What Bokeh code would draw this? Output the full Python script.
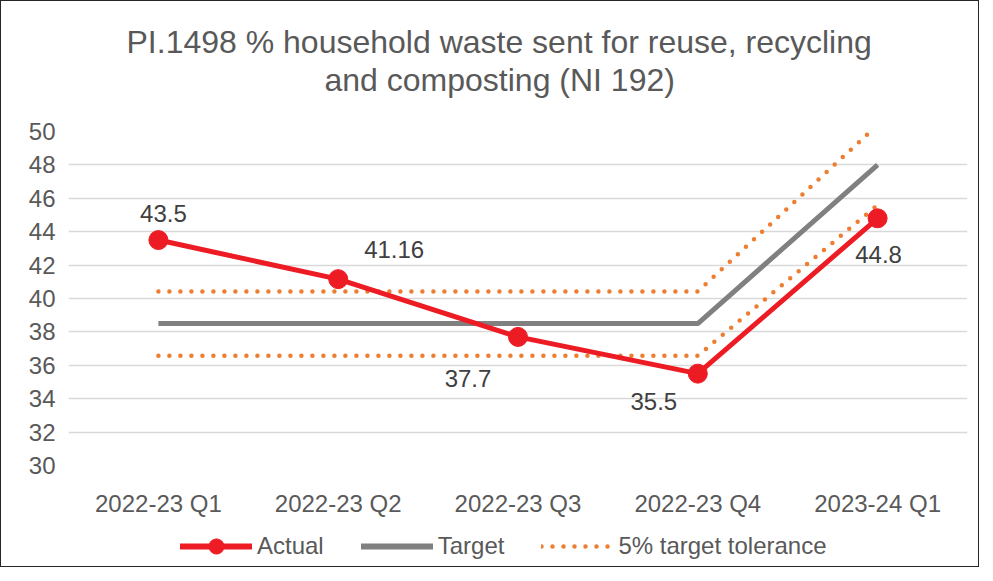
from bokeh.plotting import figure
from bokeh.layouts import column
from bokeh.models import (FactorRange, Range1d, FixedTicker, Legend, LegendItem,
                          ColumnDataSource, LabelSet, Title)
from bokeh.core.properties import value
from bokeh.embed import file_html
from bokeh.resources import INLINE

categories = ["2022-23 Q1", "2022-23 Q2", "2022-23 Q3", "2022-23 Q4", "2023-24 Q1"]
actual = [43.5, 41.16, 37.7, 35.5, 44.8]
target = [38.5, 38.5, 38.5, 38.5, 48.0]
tolerance_upper = [40.425, 40.425, 40.425, 40.425, 50.4]
tolerance_lower = [36.575, 36.575, 36.575, 36.575, 45.6]
y_ticks = [30, 32, 34, 36, 38, 40, 42, 44, 46, 48, 50]
title_lines = ["PI.1498 % household waste sent for reuse, recycling", "and composting (NI 192)"]
series_names = ["Actual", "Target", "5% target tolerance"]

# label placement (screen pixel offsets, styling only)
label_dx = [5, 56, -50, -44, 1]
label_dy = [27, 30, -42, -28, -36]

FONT = "Liberation Sans"
TXT = "#595959"
RED = "#ed1c24"
GREY = "#808080"
ORANGE = "#ed7d31"

p = figure(x_range=FactorRange(factors=categories, range_padding=0),
           y_range=Range1d(30, 50),
           width=977, height=524, output_backend="svg", toolbar_location=None,
           min_border_left=67, min_border_right=11, min_border_top=130, min_border_bottom=60)

# titles: p.title is the outermost; added titles stack from the frame outward
p.title.text = title_lines[0]
spacer = Title(text=" ", text_font_size="29px", standoff=0)
t2 = Title(text=title_lines[1])
for t in (p.title, t2):
    t.text_font = FONT
    t.text_font_size = "32px"
    t.text_font_style = "normal"
    t.text_color = TXT
    t.align = "left"
    t.standoff = 0
p.title.offset = 58
t2.offset = 256
p.add_layout(spacer, "above")
p.add_layout(t2, "above")

p.outline_line_color = None
p.background_fill_color = "white"
p.border_fill_color = "white"

p.xgrid.grid_line_color = None
p.ygrid.grid_line_color = "#d9d9d9"
p.ygrid.grid_line_width = 1.5
p.yaxis.ticker = FixedTicker(ticks=y_ticks)

for ax in (p.xaxis[0], p.yaxis[0]):
    ax.axis_line_color = None
    ax.major_tick_line_color = None
    ax.minor_tick_line_color = None
    ax.major_label_text_font = FONT
    ax.major_label_text_font_size = "24px"
    ax.major_label_text_color = TXT
p.yaxis.major_label_standoff = 7
p.xaxis.major_label_standoff = 18

src = ColumnDataSource(dict(x=categories, actual=actual, target=target,
                            up=tolerance_upper, lo=tolerance_lower,
                            lab=[str(v) for v in actual], dx=label_dx, dy=label_dy))

dot = dict(line_color=ORANGE, line_width=4.5, line_dash="0 11", line_cap="round")
p.line("x", "up", source=src, **dot)
p.line("x", "lo", source=src, **dot)
p.line("x", "target", source=src, line_color=GREY, line_width=5)
p.line("x", "actual", source=src, line_color=RED, line_width=5)
p.scatter("x", "actual", source=src, size=19, fill_color=RED, line_color=RED)

labels = LabelSet(x="x", y="actual", text="lab", source=src, x_offset="dx", y_offset="dy",
                  text_align="center", text_baseline="middle", text_font=value(FONT),
                  text_font_size=value("24px"), text_color=value("#404040"))
p.add_layout(labels)

# legend strip below the chart (hidden series renderers supply the legend glyphs)
lg = figure(x_range=FactorRange(factors=categories, range_padding=0),
            y_range=Range1d(30, 50),
            width=977, height=41, output_backend="svg", toolbar_location=None,
            x_axis_location=None, y_axis_location=None,
            min_border_left=0, min_border_right=0, min_border_top=0, min_border_bottom=0)
lg.outline_line_color = None
lg.grid.grid_line_color = None
lg.background_fill_color = "white"
lg.border_fill_color = "white"
la = lg.line("x", "actual", source=src, line_color=RED, line_width=6, line_cap="round",
             visible=False)
lm = lg.scatter("x", "actual", source=src, size=15, fill_color=RED, line_color=RED,
                visible=False)
lt = lg.line("x", "target", source=src, line_color=GREY, line_width=6, line_cap="round",
             visible=False)
lo = lg.line("x", "up", source=src, visible=False, **dot)

legend = Legend(items=[LegendItem(label=series_names[0], renderers=[la, lm]),
                       LegendItem(label=series_names[1], renderers=[lt]),
                       LegendItem(label=series_names[2], renderers=[lo])],
                orientation="horizontal", location=(112, 1),
                glyph_width=72, glyph_height=38, label_height=20, label_standoff=5,
                spacing=37, padding=0, margin=0,
                label_text_font=FONT, label_text_font_size="24px", label_text_color=TXT,
                border_line_color=None, background_fill_alpha=0)
lg.add_layout(legend, "center")

layout = column(p, lg, spacing=0, styles={"border": "1.5px solid #262626"})

open("out.html", "w").write(file_html(layout, INLINE))
